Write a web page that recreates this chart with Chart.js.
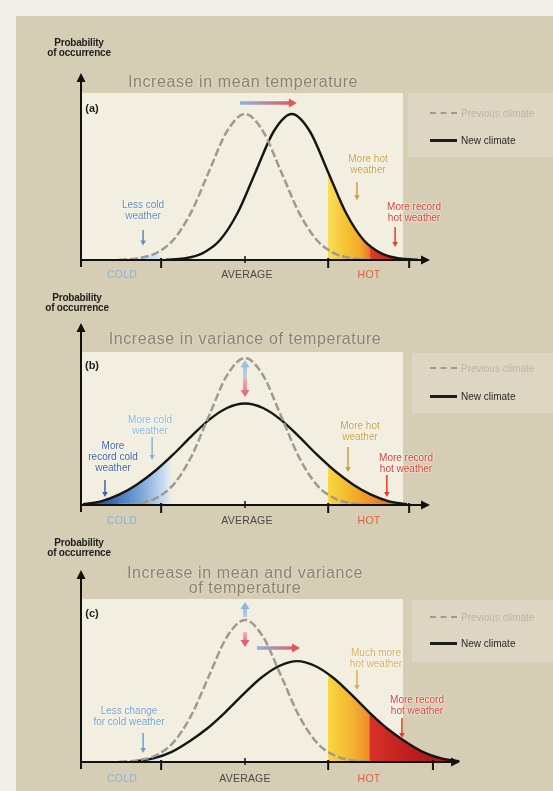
<!DOCTYPE html>
<html>
<head>
<meta charset="utf-8">
<script src="https://cdn.jsdelivr.net/npm/chart.js@4.4.1/dist/chart.umd.min.js"></script>
<style>
html, body { margin: 0; padding: 0; background: #f0eee8; }
#page { position: relative; width: 553px; height: 791px; overflow: hidden; font-family: "Liberation Sans", Arial, sans-serif; }
.box { position: absolute; }
canvas { position: absolute; left: 0; }
.t { position: absolute; transform: translate(-50%, -50%); white-space: nowrap; text-align: center; }
.prob { font-size: 10px; font-weight: bold; line-height: 10px; color: #1e1e1e; letter-spacing: -0.2px; }
.ttl { font-size: 16px; line-height: 15px; color: #898273; letter-spacing: 0.6px; text-shadow: 0 0 2px rgba(255,255,255,0.6); }
.tag { font-size: 11px; font-weight: bold; color: #1e1e1e; }
.ann { font-size: 10px; line-height: 11px; text-shadow: 0 0 2px #fff, 0 0 2px #fff; }
.ax { font-size: 10.5px; letter-spacing: 0.2px; }
.lg { position: absolute; transform: translateY(-50%); white-space: nowrap; font-size: 10px; }
.dash { position: absolute; width: 27px; border-top: 2px dashed #a09a8e; }
.solid { position: absolute; width: 27px; border-top: 3px solid #1c1c1c; }
</style>
</head>
<body>
<div id="page">
  <div class="box" style="left:16px;top:16px;width:537px;height:775px;background:#d5cdb4;"></div>

  <!-- plot backgrounds -->
  <div class="box" style="left:81px;top:93px;width:322px;height:167px;background:#f2efe1;"></div>
  <div class="box" style="left:81px;top:352px;width:322px;height:153px;background:#f2efe1;"></div>
  <div class="box" style="left:81px;top:599px;width:322px;height:163px;background:#f2efe1;"></div>

  <!-- legend boxes -->
  <div class="box" style="left:408px;top:93px;width:145px;height:64px;background:#ddd6c3;"></div>
  <div class="box" style="left:412px;top:353px;width:141px;height:60px;background:#ddd6c3;"></div>
  <div class="box" style="left:412px;top:600px;width:141px;height:62px;background:#ddd6c3;"></div>

  <canvas id="chartA" width="553" height="292" style="top:0px"></canvas>
  <canvas id="chartB" width="553" height="245" style="top:285px"></canvas>
  <canvas id="chartC" width="553" height="261" style="top:530px"></canvas>

  <!-- panel a -->
  <div class="t prob" style="left:79px;top:48px">Probability<br>of occurrence</div>
  <div class="t ttl" style="left:243px;top:81px">Increase in mean temperature</div>
  <div class="t tag" style="left:92px;top:108px">(a)</div>
  <div class="t ann" style="left:143px;top:210px;color:#5a8cc0">Less cold<br>weather</div>
  <div class="t ann" style="left:368px;top:164px;color:#cc9e44">More hot<br>weather</div>
  <div class="t ann" style="left:414px;top:212px;color:#d8402c">More record<br>hot weather</div>
  <div class="t ax" style="left:122px;top:274px;color:#8db3d6">COLD</div>
  <div class="t ax" style="left:247px;top:274px;color:#4a4a4a">AVERAGE</div>
  <div class="t ax" style="left:369px;top:274px;color:#e0623e">HOT</div>
  <div class="dash" style="left:430px;top:112px"></div>
  <div class="lg" style="left:461px;top:113px;color:#bdb6a7">Previous climate</div>
  <div class="solid" style="left:430px;top:139px"></div>
  <div class="lg" style="left:461px;top:140px;color:#2a2a2a">New climate</div>

  <!-- panel b -->
  <div class="t prob" style="left:77px;top:303px">Probability<br>of occurrence</div>
  <div class="t ttl" style="left:245px;top:338px">Increase in variance of temperature</div>
  <div class="t tag" style="left:92px;top:365px">(b)</div>
  <div class="t ann" style="left:150px;top:425px;color:#86b6dc">More cold<br>weather</div>
  <div class="t ann" style="left:113px;top:456px;color:#3d64a8">More<br>record cold<br>weather</div>
  <div class="t ann" style="left:360px;top:431px;color:#cc9e44">More hot<br>weather</div>
  <div class="t ann" style="left:406px;top:463px;color:#d8402c">More record<br>hot weather</div>
  <div class="t ax" style="left:122px;top:520px;color:#8db3d6">COLD</div>
  <div class="t ax" style="left:247px;top:520px;color:#4a4a4a">AVERAGE</div>
  <div class="t ax" style="left:369px;top:520px;color:#e0623e">HOT</div>
  <div class="dash" style="left:430px;top:367px"></div>
  <div class="lg" style="left:461px;top:368px;color:#bdb6a7">Previous climate</div>
  <div class="solid" style="left:430px;top:395px"></div>
  <div class="lg" style="left:461px;top:396px;color:#2a2a2a">New climate</div>

  <!-- panel c -->
  <div class="t prob" style="left:79px;top:548px">Probability<br>of occurrence</div>
  <div class="t ttl" style="left:245px;top:580px">Increase in mean and variance<br>of temperature</div>
  <div class="t tag" style="left:92px;top:613px">(c)</div>
  <div class="t ann" style="left:129px;top:716px;color:#6f9fcc">Less change<br>for cold weather</div>
  <div class="t ann" style="left:376px;top:658px;color:#d6ad5c">Much more<br>hot weather</div>
  <div class="t ann" style="left:417px;top:705px;color:#d8402c">More record<br>hot weather</div>
  <div class="t ax" style="left:122px;top:778px;color:#8db3d6">COLD</div>
  <div class="t ax" style="left:245px;top:778px;color:#4a4a4a">AVERAGE</div>
  <div class="t ax" style="left:369px;top:778px;color:#e0623e">HOT</div>
  <div class="dash" style="left:430px;top:616px"></div>
  <div class="lg" style="left:461px;top:617px;color:#bdb6a7">Previous climate</div>
  <div class="solid" style="left:430px;top:642px"></div>
  <div class="lg" style="left:461px;top:643px;color:#2a2a2a">New climate</div>
</div>

<script>
// temperature in units of the old standard deviation, 0 = old average
const PREV_X = [-3.5, -3, -2.5, -2, -1.5, -1, -0.5, 0, 0.5, 1, 1.5, 2, 2.5, 3, 3.5];
const PREV_Y = [0.002, 0.011, 0.044, 0.135, 0.325, 0.607, 0.882, 1, 0.882, 0.607, 0.325, 0.135, 0.044, 0.011, 0.002];

const NEW_A_X = [-2.2, -1.7, -1.2, -0.7, -0.2, 0.3, 0.8, 1.3, 1.8, 2.3, 2.8, 3.3, 3.8, 4.3, 4.8];
const NEW_A_Y = [0.002, 0.011, 0.044, 0.135, 0.325, 0.607, 0.882, 1, 0.882, 0.607, 0.325, 0.135, 0.044, 0.011, 0.002];

const NEW_B_X = [-4.5, -4, -3.5, -3, -2.5, -2, -1.5, -1, -0.5, 0, 0.5, 1, 1.5, 2, 2.5, 3, 3.5, 4, 4.5];
const NEW_B_Y = [0.005, 0.025, 0.07, 0.14, 0.231, 0.342, 0.465, 0.579, 0.66, 0.69, 0.66, 0.579, 0.465, 0.342, 0.231, 0.14, 0.07, 0.025, 0.005];

const NEW_C_X = [-3.05, -2.55, -2.05, -1.55, -1.05, -0.55, -0.05, 0.45, 0.95, 1.45, 1.95, 2.45, 2.95, 3.45, 3.95, 4.45, 4.95, 5.45, 5.95];
const NEW_C_Y = [0.005, 0.025, 0.07, 0.145, 0.236, 0.35, 0.476, 0.593, 0.676, 0.71, 0.676, 0.593, 0.476, 0.35, 0.236, 0.145, 0.07, 0.025, 0.005];

// x-axis tick marks (category boundaries) and the average
const TICKS_AB = [-2.33, 2.31, 4.56];
const TICKS_C = [-2.33, 2.31, 5.22];
const AVERAGE = 0;

function pts(xs, ys) {
    return xs.map((x, i) => ({ x: x, y: ys[i] }));
}

// horizontal colour bands under a curve, stops given in temperature units
function bandFill(stops) {
    return function (context) {
        const chart = context.chart;
        const xs = chart.scales.x;
        if (!chart.chartArea || !xs) return 'rgba(0,0,0,0)';
        const g = chart.ctx.createLinearGradient(xs.left, 0, xs.right, 0);
        stops.forEach(function (s) {
            const o = (xs.getPixelForValue(s[0]) - xs.left) / (xs.right - xs.left);
            g.addColorStop(Math.min(1, Math.max(0, o)), s[1]);
        });
        return g;
    };
}

function arrowHead(ctx, x, y, dx, dy, len, half, color) {
    const bx = x - dx * len, by = y - dy * len;
    ctx.fillStyle = color;
    ctx.beginPath();
    ctx.moveTo(x, y);
    ctx.lineTo(bx - dy * half, by + dx * half);
    ctx.lineTo(bx + dy * half, by - dx * half);
    ctx.closePath();
    ctx.fill();
}

const decor = {
    id: 'decor',
    afterDatasetsDraw(chart, args, opts) {
        const ctx = chart.ctx;
        const xs = chart.scales.x, ys = chart.scales.y;
        const a = chart.chartArea;
        const y0 = ys.getPixelForValue(0);
        ctx.save();

        // annotation arrows
        (opts.arrows || []).forEach(function (ar) {
            const x1 = xs.getPixelForValue(ar.x1), y1 = ys.getPixelForValue(ar.y1);
            const x2 = xs.getPixelForValue(ar.x2), y2 = ys.getPixelForValue(ar.y2);
            const L = Math.hypot(x2 - x1, y2 - y1);
            const dx = (x2 - x1) / L, dy = (y2 - y1) / L;
            const hl = ar.head || 5;
            const g = ctx.createLinearGradient(x1, y1, x2, y2);
            g.addColorStop(0, ar.c1);
            g.addColorStop(1, ar.c2 || ar.c1);
            ctx.strokeStyle = g;
            ctx.lineWidth = ar.w || 1.5;
            ctx.lineCap = 'butt';
            ctx.beginPath();
            ctx.moveTo(x1, y1);
            ctx.lineTo(x2 - dx * hl * 0.7, y2 - dy * hl * 0.7);
            ctx.stroke();
            arrowHead(ctx, x2, y2, dx, dy, hl, ar.half || hl * 0.55, ar.c2 || ar.c1);
        });

        ctx.strokeStyle = '#111';
        ctx.lineWidth = 2;
        // y axis
        ctx.beginPath();
        ctx.moveTo(a.left, y0 + 7);
        ctx.lineTo(a.left, a.top + 7);
        ctx.stroke();
        arrowHead(ctx, a.left, a.top, 0, -1, 9, 4.5, '#111');
        // x axis
        ctx.beginPath();
        ctx.moveTo(a.left - 1, y0);
        ctx.lineTo(a.right - 7, y0);
        ctx.stroke();
        arrowHead(ctx, a.right, y0, 1, 0, 9, 4.5, '#111');
        // ticks
        opts.ticks.forEach(function (v) {
            const x = xs.getPixelForValue(v);
            ctx.beginPath();
            ctx.moveTo(x, y0 - 2);
            ctx.lineTo(x, y0 + 8);
            ctx.stroke();
        });
        ctx.lineWidth = 1.5;
        const xa = xs.getPixelForValue(AVERAGE);
        ctx.beginPath();
        ctx.moveTo(xa, y0 - 4);
        ctx.lineTo(xa, y0 + 3);
        ctx.stroke();
        ctx.restore();
    }
};

const BLUE_SOFT = '#8cb4de', RED_SOFT = '#e2545c';

function makePanel(id, cfg) {
    const datasets = [
        {
            label: 'Previous climate',
            data: pts(PREV_X, PREV_Y),
            borderColor: '#9f998e',
            borderWidth: 2.5,
            borderDash: [8, 3],
            fill: cfg.prevFill ? 'origin' : false,
            backgroundColor: cfg.prevFill ? bandFill(cfg.prevFill) : 'rgba(0,0,0,0)',
            pointRadius: 0,
            cubicInterpolationMode: 'monotone'
        },
        {
            label: 'New climate',
            data: pts(cfg.newX, cfg.newY),
            borderColor: '#151515',
            borderWidth: 2.4,
            fill: 'origin',
            backgroundColor: bandFill(cfg.newFill),
            pointRadius: 0,
            cubicInterpolationMode: 'monotone'
        }
    ];
    return new Chart(document.getElementById(id), {
        type: 'line',
        data: { datasets: datasets },
        options: {
            responsive: false,
            animation: false,
            devicePixelRatio: 1,
            layout: { padding: cfg.pad },
            scales: {
                x: { type: 'linear', min: cfg.xMin, max: cfg.xMax, display: false },
                y: { min: 0, max: cfg.yMax, display: false }
            },
            plugins: {
                legend: { display: false },
                tooltip: { enabled: false },
                filler: { drawTime: 'beforeDatasetsDraw' },
                decor: { ticks: cfg.ticks, arrows: cfg.arrows }
            }
        },
        plugins: [decor]
    });
}

const WARM = '#f2aa2a', ORANGE = '#ec7c22', RED = '#dc3a26', DEEP_RED = '#ae1b1a';
const NONE = 'rgba(250,230,120,0)';

makePanel('chartA', {
    pad: { left: 81, right: 123, top: 73, bottom: 32 },
    xMin: -4.556, xMax: 5.139, yMax: 1.281,
    newX: NEW_A_X, newY: NEW_A_Y,
    prevFill: [[-3.3, 'rgba(184,216,238,0)'], [-3.0, '#b8d8ee'], [-2.45, '#d2e6f4'], [-2.3, 'rgba(210,230,244,0)']],
    newFill: [[2.31, NONE], [2.31, '#f8de5a'], [2.8, '#f6c232'], [3.2, WARM], [3.45, ORANGE], [3.5, RED], [4.4, DEEP_RED], [5.1, '#9e1818']],
    ticks: TICKS_AB,
    arrows: [
        { x1: -2.83, y1: 0.205, x2: -2.83, y2: 0.1, c1: '#5a8cc0' },
        { x1: 3.11, y1: 0.534, x2: 3.11, y2: 0.41, c1: '#cc9e44' },
        { x1: 4.17, y1: 0.226, x2: 4.17, y2: 0.089, c1: '#d8402c' },
        { x1: -0.14, y1: 1.075, x2: 1.44, y2: 1.075, c1: BLUE_SOFT, c2: RED_SOFT, w: 3.5, head: 8, half: 4.5 }
    ]
});

makePanel('chartB', {
    pad: { left: 81, right: 123, top: 38, bottom: 25 },
    xMin: -4.556, xMax: 5.139, yMax: 1.238,
    newX: NEW_B_X, newY: NEW_B_Y,
    newFill: [[-4.6, '#1b4690'], [-3.7, '#3768b2'], [-2.9, '#7aa5d8'], [-2.2, '#cfe1f2'], [-2.0, 'rgba(220,235,248,0)'],
              [2.31, NONE], [2.31, '#f8d840'], [3.1, WARM], [3.8, ORANGE], [4.6, '#e0481c']],
    ticks: TICKS_AB,
    arrows: [
        { x1: -2.58, y1: 0.463, x2: -2.58, y2: 0.306, c1: '#86b6dc' },
        { x1: -3.89, y1: 0.17, x2: -3.89, y2: 0.054, c1: '#3d64a8' },
        { x1: 2.86, y1: 0.395, x2: 2.86, y2: 0.224, c1: '#cc9e44' },
        { x1: 3.94, y1: 0.204, x2: 3.94, y2: 0.054, c1: '#d8402c' },
        { x1: 0, y1: 0.87, x2: 0, y2: 0.985, c1: '#b4cfea', c2: '#9dbfe0', w: 4, head: 7, half: 4.5 },
        { x1: 0, y1: 0.87, x2: 0, y2: 0.735, c1: '#f0b4bc', c2: '#e27080', w: 4, head: 7, half: 4.5 }
    ]
});

makePanel('chartC', {
    pad: { left: 81, right: 93, top: 40, bottom: 29 },
    xMin: -4.556, xMax: 5.972, yMax: 1.352,
    newX: NEW_C_X, newY: NEW_C_Y,
    prevFill: [[-3.3, 'rgba(184,216,238,0)'], [-3.0, '#c4def0'], [-2.45, '#d6e8f5'], [-2.3, 'rgba(214,232,245,0)']],
    newFill: [[2.31, NONE], [2.31, '#f8d840'], [3.0, '#f3b232'], [3.45, '#ee8c28'], [3.47, '#d9322a'], [4.6, '#bd1e1e'], [6, '#a01515']],
    ticks: TICKS_C,
    arrows: [
        { x1: -2.83, y1: 0.204, x2: -2.83, y2: 0.063, c1: '#6f9fcc' },
        { x1: 3.11, y1: 0.648, x2: 3.11, y2: 0.507, c1: '#d6ad5c' },
        { x1: 4.36, y1: 0.31, x2: 4.36, y2: 0.169, c1: '#d8402c' },
        { x1: 0, y1: 1.021, x2: 0, y2: 1.127, c1: '#b4cfea', c2: '#8fb4dc', w: 4, head: 7, half: 4.5 },
        { x1: 0, y1: 0.915, x2: 0, y2: 0.81, c1: '#f0b4bc', c2: '#e06070', w: 4, head: 7, half: 4.5 },
        { x1: 0.33, y1: 0.803, x2: 1.53, y2: 0.803, c1: BLUE_SOFT, c2: RED_SOFT, w: 3.5, head: 8, half: 4.5 }
    ]
});
</script>
</body>
</html>
